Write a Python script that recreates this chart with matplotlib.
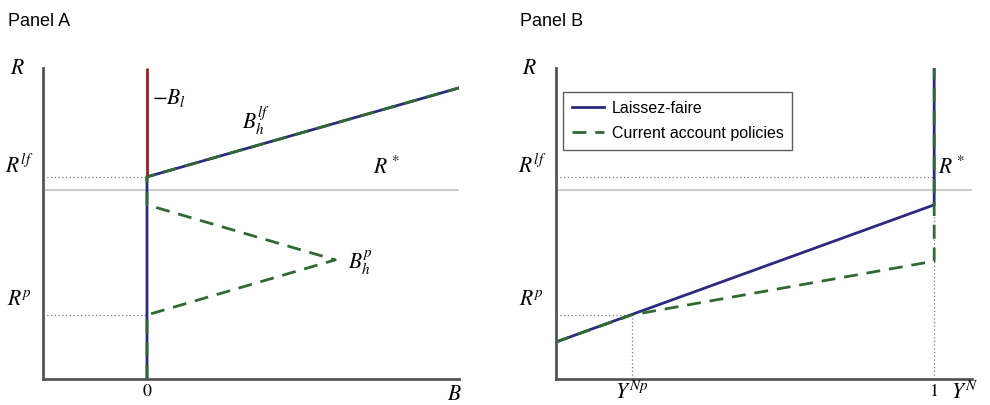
import matplotlib.pyplot as plt
import numpy as np

plt.rcParams['mathtext.fontset'] = 'stix'
plt.rcParams['font.family'] = 'Liberation Sans'

# ---- Panel A values (B on x, R on y) ----
r_star = 6.08
r_lf = 6.5
r_p = 2.06
r_top = 10.0

lf_a_x = [0.0, 0.0, 3.0]
lf_a_y = [0.0, r_lf, 9.36]
pol_a_x = [0.0, 0.0, 1.81, 0.0, 0.0, 3.0]
pol_a_y = [0.0, r_p, 3.83, 5.6, r_lf, 9.36]
red_x = [0.0, 0.0]
red_y = [r_lf, r_top]

# ---- Panel B values (Y^N on x, R on y) ----
y_np = 0.2
lf_b_x = [0.0, 1.0, 1.0]
lf_b_y = [1.19, 5.6, r_top]
pol_b_x = [0.0, y_np, 1.0, 1.0]
pol_b_y = [1.19, r_p, 3.79, r_top]

blue = '#2a2a80'
green = '#2f6a31'
red = '#a4191c'
axcol = '#555555'

fig = plt.figure(figsize=(9.9, 4.05), dpi=100)
W, H = 990.0, 405.0

def mkax(left, right, top, bottom):
    return fig.add_axes([left / W, 1 - bottom / H, (right - left) / W, (bottom - top) / H])

axA = mkax(43, 459, 68, 379)
axB = mkax(556, 972, 68, 379)

for ax in (axA, axB):
    for s in ('top', 'right'):
        ax.spines[s].set_visible(False)
    for s in ('left', 'bottom'):
        ax.spines[s].set_color(axcol)
        ax.spines[s].set_linewidth(2)
    ax.set_xticks([])
    ax.set_yticks([])
    ax.patch.set_alpha(0)

dash = dict(color=green, lw=2.0, dashes=(5, 3.2))
dot = dict(color='#777777', lw=0.9, ls=(0, (1, 2)))
fs = 15.5

######### Panel A ##########
axA.set_xlim(-1, 3)
axA.set_ylim(0, 10)
axA.axhline(r_star, color='#c8c8c8', lw=1.3, zorder=1)
axA.plot([-1, 0], [r_lf, r_lf], **dot)
axA.plot([-1, 0], [r_p, r_p], **dot)
axA.plot(red_x, red_y, color=red, lw=2.0, solid_capstyle='butt')
axA.plot(lf_a_x, lf_a_y, color=blue, lw=2.0)
axA.plot(pol_a_x, pol_a_y, **dash)

axA.text(-1.25, 10.0, r'$R$', fontsize=fs, ha='center', va='center')
axA.text(-1.23, 6.85, r'$R^{lf}$', fontsize=fs, ha='center', va='center')
axA.text(-1.23, 2.55, r'$R^{p}$', fontsize=fs, ha='center', va='center')
axA.text(0.05, 9.05, r'$-B_l$', fontsize=fs, ha='left', va='center')
axA.text(1.05, 8.3, r'$B_h^{lf}$', fontsize=fs, ha='center', va='center')
axA.text(2.3, 6.8, r'$R^*$', fontsize=fs, ha='center', va='center')
axA.text(2.05, 3.75, r'$B_h^{p}$', fontsize=fs, ha='center', va='center')
axA.text(0.0, -0.42, '0', fontsize=13, family='STIXGeneral', ha='center', va='center')
axA.text(2.96, -0.5, r'$B$', fontsize=fs, ha='center', va='center')
fig.text(8 / W, 1 - 22 / H, 'Panel A', fontsize=13, ha='left', va='center')

######### Panel B ##########
axB.set_xlim(0, 1.1)
axB.set_ylim(0, 10)
axB.axhline(r_star, color='#c8c8c8', lw=1.3, zorder=1)
axB.plot([0, 1], [r_lf, r_lf], **dot)
axB.plot([0, y_np], [r_p, r_p], **dot)
axB.plot([y_np, y_np], [0, r_p], **dot)
axB.plot([1, 1], [0, 5.6], **dot)
axB.plot(lf_b_x, lf_b_y, color=blue, lw=2.0, label='Laissez-faire')
axB.plot(pol_b_x, pol_b_y, label='Current account policies', **dash)

axB.text(-0.069, 10.0, r'$R$', fontsize=fs, ha='center', va='center')
axB.text(-0.064, 6.85, r'$R^{lf}$', fontsize=fs, ha='center', va='center')
axB.text(-0.064, 2.55, r'$R^{p}$', fontsize=fs, ha='center', va='center')
axB.text(1.045, 6.8, r'$R^*$', fontsize=fs, ha='center', va='center')
axB.text(y_np, -0.45, r'$Y^{Np}$', fontsize=fs, ha='center', va='center')
axB.text(1.0, -0.42, '1', fontsize=13, family='STIXGeneral', ha='center', va='center')
axB.text(1.08, -0.45, r'$Y^{N}$', fontsize=fs, ha='center', va='center')
fig.text(520 / W, 1 - 22 / H, 'Panel B', fontsize=13, ha='left', va='center')

leg = axB.legend(loc='upper left', bbox_to_anchor=(0.017, 0.922), fontsize=11.5,
                 frameon=True, fancybox=False, handlelength=2.0, borderpad=0.55,
                 labelspacing=0.62, borderaxespad=0, handletextpad=0.5)
leg.get_frame().set_edgecolor('#333333')
leg.get_frame().set_linewidth(1.0)

fig.savefig('out.png', dpi=100)
